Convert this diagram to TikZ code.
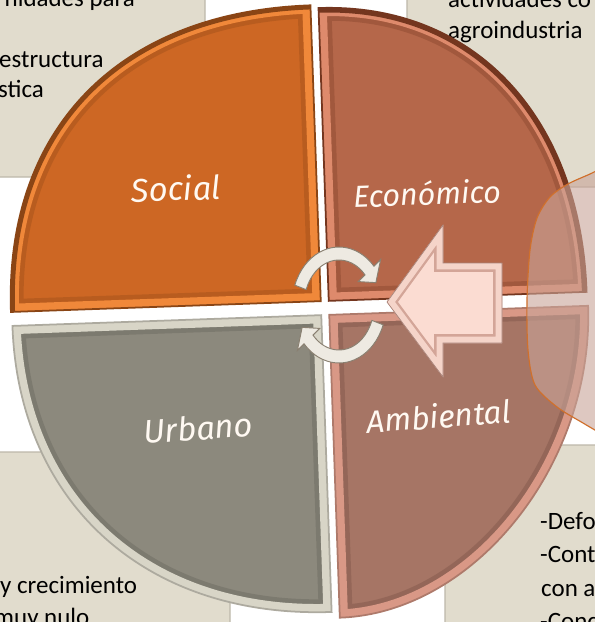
\documentclass[tikz,border=0pt]{standalone}
\usepackage{fontspec}
\setmainfont{Carlito}
\newfontfamily\labelfont{Fira Sans}
\definecolor{bgBeige}{HTML}{E1DCCD}
\definecolor{boxEdge}{HTML}{BDB8AA}
\definecolor{socialMain}{HTML}{CD6724}
\definecolor{socialBevel}{HTML}{F0883A}
\definecolor{socialDark}{HTML}{8A4515}
\definecolor{ecoMain}{HTML}{B5674A}
\definecolor{ecoBevel}{HTML}{DE8A6C}
\definecolor{ecoDark}{HTML}{74361F}
\definecolor{urbMain}{HTML}{8C897D}
\definecolor{urbBevel}{HTML}{D8D5C7}
\definecolor{urbDark}{HTML}{5A584F}
\definecolor{ambMain}{HTML}{A67565}
\definecolor{ambBevel}{HTML}{D99886}
\definecolor{ambDark}{HTML}{6B463A}
\definecolor{arrowFill}{HTML}{FBDCD2}
\definecolor{arrowEdge}{HTML}{D3A598}
\definecolor{cycleFill}{HTML}{EEEAE2}
\definecolor{cycleEdge}{HTML}{8A8071}
\definecolor{calloutFill}{HTML}{C9A499}
\definecolor{calloutLine}{HTML}{D0702C}
\definecolor{labelWhite}{HTML}{FFF9F2}
% quadrant outlines (pixel units, before the wheel tilt)
\newcommand\arcSocial{(11,301) .. controls (11,118) and (129,5) .. (321,5)}
\newcommand\arcEco{(329,8) .. controls (484,8) and (587,125) .. (587,301)}
\newcommand\shapeSocial{(321,301) -- \arcSocial -- cycle}
\newcommand\shapeEco{(329,301) -- \arcEco -- cycle}
\newcommand\shapeUrb{(321,315) -- (12,315) .. controls (12,493) and (136,612) .. (321,612) -- cycle}
\newcommand\shapeAmb{(329,315) -- (588,315) .. controls (588,473) and (464,618) .. (329,618) -- cycle}
\newcommand\shapeArrow{(387,302) -- (443,225) -- (443,263) -- (502,263) -- (502,343) -- (443,343) -- (443,377) -- cycle}
\newcommand\shapeCycleUp{([shift={(339,305)}]200:47 and 58) arc[start angle=200, end angle=318, x radius=47, y radius=58] -- ([shift={(339,305)}]318:56 and 68) -- ([shift={(339,305)}]334:41 and 51) -- ([shift={(339,305)}]318:26 and 35) -- ([shift={(339,305)}]318:35 and 45) arc[start angle=318, end angle=200, x radius=35, y radius=45] -- cycle}
\newcommand\shapeCycleDown{([shift={(339,305)}]20:47 and 58) arc[start angle=20, end angle=138, x radius=47, y radius=58] -- ([shift={(339,305)}]138:56 and 68) -- ([shift={(339,305)}]154:41 and 51) -- ([shift={(339,305)}]138:26 and 35) -- ([shift={(339,305)}]138:35 and 45) arc[start angle=138, end angle=20, x radius=35, y radius=45] -- cycle}
\newcommand\calloutEdge{plot[smooth] coordinates {(600,169) (590,174) (568,184) (550,197) (537,218) (530,250) (527,300) (528,350) (535,385) (557,407) (583,423) (600,433)}}

\begin{document}
\begin{tikzpicture}[x=0.03cm, y=-0.03cm,
    boxBg/.style={fill=bgBeige, draw=boxEdge, line width=1pt, rounded corners=4pt},
    boxText/.style={font=\fontsize{21.3}{26}\selectfont, text=black, inner sep=0pt, anchor=base west},
    quadLabel/.style={font=\labelfont\itshape\fontsize{#1}{30}\selectfont, text=labelWhite, inner sep=0pt},
    quadLabel/.default=26,
    quadShade/.style={line width=22pt, opacity=.3},
    quadBevel/.style={line width=14pt},
    quadRim/.style={line width=1.5pt},
    cycleArrow/.style={fill=cycleFill, draw=cycleEdge, line width=.8pt},
]
\useasboundingbox (0,0) rectangle (595,622);
\clip (0,0) rectangle (595,622);
\fill[white] (0,0) rectangle (595,622);
% text boxes behind the wheel
\draw[boxBg] (-10,-10) rectangle (205,177);
\draw[boxBg] (407,-10) rectangle (605,187);
\draw[boxBg] (-10,452) rectangle (230,632);
\draw[boxBg] (445,445) rectangle (605,632);
\node[boxText, anchor=base east] (tlLineA) at (135,7) {nidades para};
\node[boxText] (tlLineB) at (-1,68) {estructura};
\node[boxText] (tlLineC) at (-2,98) {stica};
\node[boxText] (trLineA) at (448,8) {actividades co};
\node[boxText] (trLineB) at (448,39) {agroindustria};
\node[boxText] (blLineA) at (0,593) {y crecimiento};
\node[boxText] (blLineB) at (-6,625) {muy nulo};
\node[boxText] (brLineA) at (540,529) {-Defo};
\node[boxText] (brLineB) at (540,562) {-Cont};
\node[boxText] (brLineC) at (541,596) {con a};
\node[boxText] (brLineD) at (540,629) {-Cond};
\begin{scope}[rotate around={2:(325,308)}]
% social
\begin{scope}
  \clip \shapeSocial;
  \fill[socialMain] \shapeSocial;
  \draw[quadShade, socialDark] \shapeSocial;
  \draw[quadBevel, socialBevel] \shapeSocial;
  \draw[socialDark, line width=7pt] \arcSocial;
\end{scope}
\draw[quadRim, socialDark] \shapeSocial;
% economico
\begin{scope}
  \clip \shapeEco;
  \fill[ecoMain] \shapeEco;
  \draw[quadShade, ecoDark] \shapeEco;
  \draw[quadBevel, ecoBevel] \shapeEco;
  \draw[ecoDark, line width=8pt] \arcEco;
\end{scope}
\draw[quadRim, ecoDark] \shapeEco;
% urbano
\begin{scope}
  \clip \shapeUrb;
  \fill[urbMain] \shapeUrb;
  \draw[quadShade, urbDark] \shapeUrb;
  \draw[quadBevel, urbBevel] \shapeUrb;
\end{scope}
\draw[quadRim, urbBevel!80!black] \shapeUrb;
% ambiental
\begin{scope}
  \clip \shapeAmb;
  \fill[ambMain] \shapeAmb;
  \draw[quadShade, ambDark] \shapeAmb;
  \draw[quadBevel, ambBevel] \shapeAmb;
\end{scope}
\draw[quadRim, ambBevel!80!black] \shapeAmb;
\end{scope}
% labels
\node[quadLabel=28, rotate=2] (social) at (176,188) {Social};
\node[quadLabel, rotate=2] (economico) at (427,193) {Económico};
\node[quadLabel=28, rotate=4] (urbano) at (198,428) {Urbano};
\node[quadLabel=27, rotate=4] (ambiental) at (439,416) {Ambiental};
% cycle arrows
\path[cycleArrow] \shapeCycleUp;
\path[cycleArrow] \shapeCycleDown;
% big arrow
\begin{scope}
  \clip \shapeArrow;
  \fill[arrowFill] \shapeArrow;
  \draw[arrowEdge, line width=15pt] \shapeArrow;
  \draw[arrowFill!85!arrowEdge, line width=11pt] \shapeArrow;
\end{scope}
\draw[arrowEdge!80!black, line width=.6pt] \shapeArrow;
% callout
\fill[calloutFill, opacity=.6] \calloutEdge -- (620,433) -- (620,169) -- cycle;
\draw[calloutLine, line width=1pt] \calloutEdge;
\end{tikzpicture}
\end{document}
